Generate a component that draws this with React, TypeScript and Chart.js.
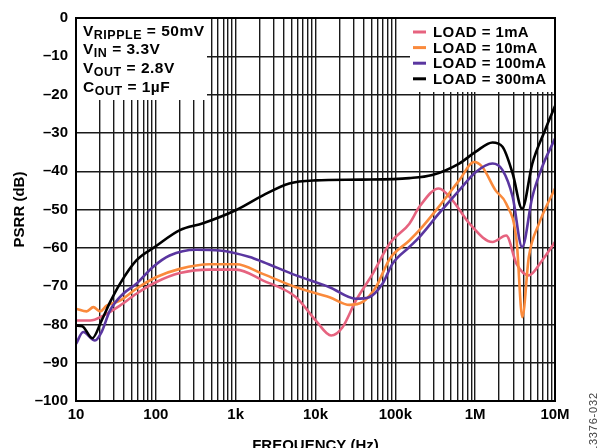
import React, { useEffect, useRef } from "react";
import { Chart, registerables } from "chart.js";
Chart.register(...registerables);

// ---- data ----
const tickFreqs = [10, 100, 1e3, 1e4, 1e5, 1e6, 1e7];
const tickLabels = ["10", "100", "1k", "10k", "100k", "1M", "10M"];
const yTicks = [0, -10, -20, -30, -40, -50, -60, -70, -80, -90, -100];

const seriesLabels = ["LOAD = 1mA", "LOAD = 10mA", "LOAD = 100mA", "LOAD = 300mA"];
const seriesColors = ["#E6637F", "#FA8A3C", "#5A36A0", "#000000"];

const load1mAFreq = [10, 15, 22, 35.5, 57, 100, 200, 470, 1020, 2180, 5700, 10100, 15700, 21700, 32000, 52000, 85000, 150000, 200000, 350000, 520000, 850000, 1650000, 2450000, 3300000, 4700000, 6900000, 1e7];
const load1mAPsrr = [-79, -79, -77.7, -75.1, -72, -69, -66.6, -65.7, -65.7, -68.5, -72.9, -79, -82.9, -80.8, -73.8, -66.8, -58.9, -53.7, -49.3, -44.5, -47.6, -53.7, -58.5, -56.8, -64.2, -67.2, -63.3, -58.5];

const load10mAFreq = [10, 13.6, 16.5, 20, 24.2, 35.5, 57, 100, 200, 470, 1020, 2180, 5700, 15000, 26700, 38600, 57000, 85000, 150000, 200000, 350000, 630000, 970000, 1230000, 1800000, 2450000, 3300000, 3900000, 4700000, 6300000, 1e7];
const load10mAPsrr = [-75.9, -76.6, -75.5, -76.6, -75.1, -73.8, -70.7, -67.7, -65.5, -64.3, -64.3, -66.8, -70.3, -72.9, -74.9, -74.2, -70.3, -62.9, -58.1, -55.4, -49.3, -42.4, -37.6, -38.9, -45, -48.5, -58.1, -78.1, -62.4, -53.7, -44.5];

const load100mAFreq = [10, 12.3, 17.3, 20.9, 26.6, 39, 57, 92, 149, 320, 630, 1500, 2200, 5700, 15000, 32000, 47000, 69000, 92000, 150000, 200000, 350000, 630000, 1020000, 1650000, 2200000, 2950000, 3870000, 5200000, 6900000, 1e7];
const load100mAPsrr = [-85.1, -82, -84.2, -82, -76.4, -72, -69.4, -65, -62, -60.5, -60.7, -62.4, -63.7, -67.2, -70.3, -73.3, -72.9, -69.4, -64.2, -59.8, -57.2, -51.1, -45, -40.2, -38, -39.7, -46.7, -59.8, -46.7, -38.9, -31.5];

const load300mAFreq = [10, 12, 16, 20.9, 27, 35.5, 57, 100, 200, 390, 1000, 2200, 4700, 10000, 38000, 150000, 290000, 630000, 1020000, 1650000, 2200000, 2950000, 3870000, 5200000, 7500000, 1e7];
const load300mAPsrr = [-80.3, -80.5, -83.6, -79, -74, -69.4, -63.3, -59.6, -55.4, -53.6, -50.2, -46.3, -43.2, -42.4, -42.2, -41.8, -41, -38, -34.9, -32.5, -33.6, -40.6, -49.8, -38, -29.3, -23];

const annotationLines: [string, boolean][][] = [
  [["V", false], ["RIPPLE", true], [" = 50mV", false]],
  [["V", false], ["IN", true], [" = 3.3V", false]],
  [["V", false], ["OUT", true], [" = 2.8V", false]],
  [["C", false], ["OUT", true], [" = 1µF", false]],
];

const xTitle = "FREQUENCY (Hz)";
const yTitle = "PSRR (dB)";
const figureId = "13376-032";

const FONT = "'Liberation Sans', Arial, sans-serif";

function gridFreqs(): number[] {
  const out: number[] = [];
  for (let n = 1; n <= 6; n++) {
    for (let d = 1; d <= 9; d++) out.push(d * Math.pow(10, n));
  }
  out.push(1e7);
  return out;
}

const overlayPlugin = {
  id: "overlay",
  beforeDatasetsDraw(chart: any) {
    const { ctx, chartArea: a } = chart;
    ctx.save();
    ctx.fillStyle = "#ffffff";
    ctx.fillRect(a.left, a.top, 131, 82);
    ctx.fillRect(410, a.top, a.right - 410, 74);
    ctx.restore();
  },
  afterDatasetsDraw(chart: any) {
    const { ctx, chartArea: a } = chart;
    ctx.save();
    // frame
    ctx.strokeStyle = "#000";
    ctx.lineWidth = 2;
    ctx.strokeRect(a.left, a.top, a.right - a.left, a.bottom - a.top);

    // annotation text
    ctx.fillStyle = "#000";
    ctx.textBaseline = "alphabetic";
    ctx.textAlign = "left";
    ctx.letterSpacing = "0.5px";
    annotationLines.forEach((parts, i) => {
      let x = 83;
      const y = 35.5 + i * 18.8;
      parts.forEach(([t, sub]) => {
        ctx.font = sub ? `bold 12.5px ${FONT}` : `bold 15.5px ${FONT}`;
        ctx.fillText(t, x, sub ? y + 3 : y);
        x += ctx.measureText(t).width;
      });
    });

    // legend
    ctx.font = `bold 15px ${FONT}`;
    ctx.letterSpacing = "0.4px";
    ctx.textBaseline = "middle";
    chart.data.datasets.forEach((ds: any, i: number) => {
      const y = 32 + i * 15.6;
      ctx.strokeStyle = ds.borderColor;
      ctx.lineWidth = 3;
      ctx.beginPath();
      ctx.moveTo(413, y);
      ctx.lineTo(426, y);
      ctx.stroke();
      ctx.fillStyle = "#000";
      ctx.fillText(ds.label, 433, y + 1);
    });
    ctx.letterSpacing = "0px";

    // axis titles
    ctx.font = `bold 15px ${FONT}`;
    ctx.textAlign = "center";
    ctx.textBaseline = "middle";
    ctx.fillText(xTitle, (a.left + a.right) / 2, 446);
    ctx.save();
    ctx.translate(20, (a.top + a.bottom) / 2);
    ctx.rotate(-Math.PI / 2);
    ctx.fillText(yTitle, 0, 0);
    ctx.restore();

    // figure id
    ctx.save();
    ctx.font = `11px ${FONT}`;
    ctx.fillStyle = "#444";
    ctx.textAlign = "left";
    ctx.translate(594, 452);
    ctx.rotate(-Math.PI / 2);
    ctx.letterSpacing = "0.8px";
    ctx.fillText(figureId, 0, 0);
    ctx.restore();
    ctx.restore();
  },
};

export default function App() {
  const ref = useRef<HTMLCanvasElement>(null);
  useEffect(() => {
    document.body.style.margin = "0";
    const freqs = [load1mAFreq, load10mAFreq, load100mAFreq, load300mAFreq];
    const vals = [load1mAPsrr, load10mAPsrr, load100mAPsrr, load300mAPsrr];
    const grid = gridFreqs();
    const chart = new Chart(ref.current!, {
      type: "line",
      data: {
        datasets: seriesLabels.map((label, i) => ({
          label,
          data: freqs[i].map((f, j) => ({ x: f, y: vals[i][j] })),
          borderColor: seriesColors[i],
          backgroundColor: seriesColors[i],
          borderWidth: 2.6,
          pointRadius: 0,
          cubicInterpolationMode: "monotone" as const,
          order: 3 - i,
        })),
      },
      options: {
        animation: false,
        responsive: false,
        devicePixelRatio: 1,
        layout: { padding: { top: 18, right: 43, left: 0, bottom: 0 } },
        plugins: { legend: { display: false }, tooltip: { enabled: false } },
        scales: {
          x: {
            type: "logarithmic",
            min: 10,
            max: 1e7,
            border: { display: false },
            grid: { color: "#1a1a1a", lineWidth: 1.4, drawTicks: false },
            afterBuildTicks(scale: any) {
              scale.ticks = grid.map((v) => ({ value: v }));
            },
            afterFit(scale: any) {
              scale.height = 47;
            },
            ticks: {
              autoSkip: false,
              maxRotation: 0,
              padding: 5,
              color: "#000",
              font: { family: FONT, size: 15, weight: "bold" },
              callback(v: any) {
                const idx = tickFreqs.indexOf(Number(v));
                return idx >= 0 ? tickLabels[idx] : "";
              },
            },
          },
          y: {
            type: "linear",
            min: -100,
            max: 0,
            border: { display: false },
            grid: { color: "#1a1a1a", lineWidth: 1.4, drawTicks: false },
            afterBuildTicks(scale: any) {
              scale.ticks = yTicks.map((v) => ({ value: v }));
            },
            afterFit(scale: any) {
              scale.width = 76;
            },
            ticks: {
              padding: 8,
              color: "#000",
              font: { family: FONT, size: 15, weight: "bold" },
              callback(v: any) {
                const n = Number(v);
                return n === 0 ? "0" : "\u2013" + Math.abs(n);
              },
            },
          },
        },
      },
      plugins: [overlayPlugin],
    });
    return () => chart.destroy();
  }, []);
  return (
    <div style={{ position: "absolute", left: 0, top: 0, width: 598, height: 448 }}>
      <canvas ref={ref} width={598} height={448} />
    </div>
  );
}
